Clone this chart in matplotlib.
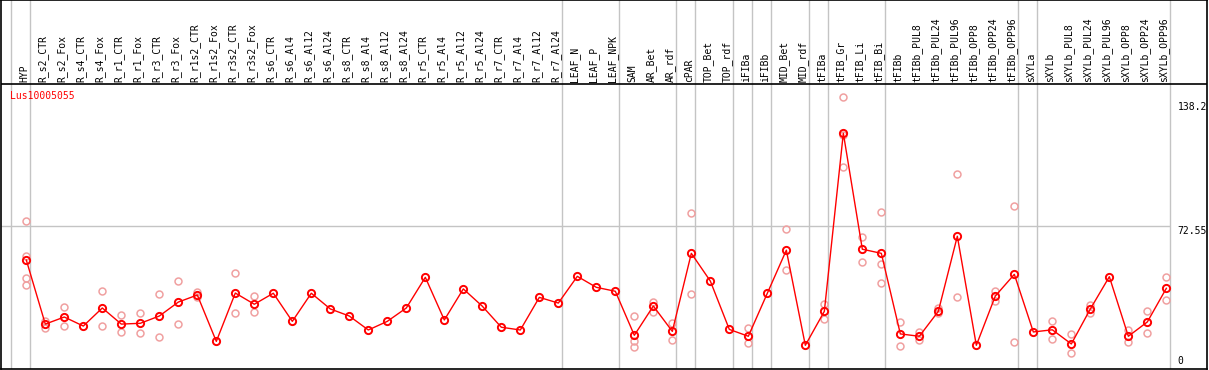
import matplotlib
matplotlib.use("Agg")
import matplotlib.pyplot as plt

# column labels
categories = [
    "HYP", "R_s2_CTR", "R_s2_Fox", "R_s4_CTR", "R_s4_Fox", "R_r1_CTR", "R_r1_Fox",
    "R_r3_CTR", "R_r3_Fox", "R_r1s2_CTR", "R_r1s2_Fox", "R_r3s2_CTR", "R_r3s2_Fox",
    "R_s6_CTR", "R_s6_Al4", "R_s6_Al12", "R_s6_Al24", "R_s8_CTR", "R_s8_Al4",
    "R_s8_Al12", "R_s8_Al24", "R_r5_CTR", "R_r5_Al4", "R_r5_Al12", "R_r5_Al24",
    "R_r7_CTR", "R_r7_Al4", "R_r7_Al12", "R_r7_Al24", "LEAF_N", "LEAF_P", "LEAF_NPK",
    "SAM", "AR_Bet", "AR_rdf", "cPAR", "TOP_Bet", "TOP_rdf", "iFIBa", "iFIBb",
    "MID_Bet", "MID_rdf", "tFIBa", "tFIB_Gr", "tFIB_Li", "tFIB_Bi", "tFIBb",
    "tFIBb_PUL8", "tFIBb_PUL24", "tFIBb_PUL96", "tFIBb_OPP8", "tFIBb_OPP24",
    "tFIBb_OPP96", "sXYLa", "sXYLb", "sXYLb_PUL8", "sXYLb_PUL24", "sXYLb_PUL96",
    "sXYLb_OPP8", "sXYLb_OPP24", "sXYLb_OPP96",
]

# mean expression per column
means = [
    55.2, 22.6, 26.2, 21.6, 30.8, 22.6, 23.0, 26.7, 33.8, 37.4, 13.8, 38.4, 32.7,
    38.3, 24.0, 38.3, 30.3, 26.7, 19.6, 24.0, 30.8, 46.4, 24.7, 40.5, 31.7,
    21.0, 19.6, 36.2, 33.3, 46.9, 41.3, 39.3,
    16.9, 31.8, 18.9, 58.6, 44.5, 19.9, 16.4, 38.3, 60.2, 11.8, 29.1, 119.7,
    60.7, 58.6, 17.6, 16.4, 29.1, 67.3, 11.8, 36.9, 47.9,
    18.6, 19.7, 12.5, 30.3, 46.7, 16.4, 23.7, 40.8,
]

# individual replicates (empty where none are visible)
replicates = [
    [74.9, 57.4, 46.1, 42.3], [24.0, 20.5], [31.3, 21.6], [], [39.4, 21.6],
    [27.2, 18.4], [28.1, 17.9], [37.8, 15.9], [44.4, 22.6], [38.8, 36.2], [],
    [48.6, 28.1], [36.7, 28.6],
    [], [], [], [], [], [], [], [], [], [], [], [], [], [], [], [], [], [], [],
    [26.6, 13.8, 10.9], [33.8, 28.8], [23.0, 14.4], [79.0, 37.8], [], [],
    [20.5, 12.8], [], [70.8, 50.0], [], [32.8, 25.0], [138.0, 118.8, 102.4],
    [66.8, 54.0], [79.5, 53.0, 43.4], [23.5, 11.3], [18.4, 14.5], [30.6, 28.1],
    [99.0, 36.2], [], [39.6, 34.5], [82.5, 13.3],
    [], [24.0, 15.2], [17.4, 7.7], [32.3, 28.1], [], [19.6, 13.6], [29.1, 18.1],
    [46.4, 34.7],
]

# group separators come after these column indices
group_ends = [-1, 0, 28, 31, 34, 35, 37, 38, 39, 41, 42, 45, 52, 53, 60]

ymax_label = "138.2"
ymid_label = "72.55"
ymid = 72.55

fig = plt.figure(figsize=(12.09, 3.70), dpi=100)
ax = fig.add_axes([1 / 1209, 1 / 370, 1206 / 1209, 369 / 370])
ax.set_xlim(-1.332, 62.14)
ax.set_ylim(-0.25, 187.5)
ax.set_xticks([])
ax.set_yticks([])
for s in ax.spines.values():
    s.set_color("black")
    s.set_linewidth(1.2)

grey = "#c4c4c4"
for g in group_ends:
    ax.axvline(g + 0.21, color=grey, lw=1.0, zorder=1)
ax.hlines(ymid, -1.332, 60.21, color=grey, lw=1.0, zorder=1)
ax.axhline(144.8, color="black", lw=1.2, zorder=2)

x = list(range(len(categories)))
for i, reps in enumerate(replicates):
    if reps:
        ax.plot([i] * len(reps), reps, "o", ms=5, mfc="none", mec="#f0a0a0",
                mew=1.1, zorder=3)
ax.plot(x, means, color="red", lw=1.0, zorder=4)
ax.plot(x, means, "o", ms=5.2, mfc="none", mec="red", mew=1.4, zorder=5)

for i, name in enumerate(categories):
    ax.text(i - 0.12, 145.6, name, rotation=90, ha="center", va="bottom",
            fontsize=7, family="DejaVu Sans Mono", color="black")

ax.text(-0.86, 138.7, "Lus10005055", ha="left", va="center", fontsize=7,
        family="DejaVu Sans Mono", color="red")

for lab, yv in [(ymax_label, 133.3), (ymid_label, 70.1), ("0", 3.97)]:
    ax.text(60.6, yv, lab, ha="left", va="center", fontsize=7,
            family="DejaVu Sans Mono", color="black")

fig.savefig("out.png", dpi=100)
